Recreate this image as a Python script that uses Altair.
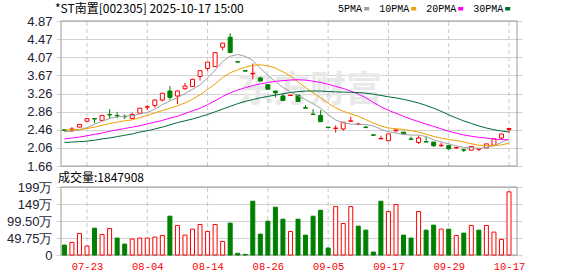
import altair as alt
import pandas as pd

title_text = "*ST南置[002305] 2025-10-17 15:00"
volume_title = "成交量:1847908"
watermark = "东方财富"

dates = ["07-18","07-21","07-22","07-23","07-24","07-25","07-28","07-29","07-30","07-31",
         "08-01","08-04","08-05","08-06","08-07","08-08","08-11","08-12","08-13","08-14",
         "08-15","08-18","08-19","08-20","08-21","08-22","08-25","08-26","08-27","08-28",
         "08-29","09-01","09-02","09-03","09-04","09-05","09-08","09-09","09-10","09-11",
         "09-12","09-15","09-16","09-17","09-18","09-19","09-22","09-23","09-24","09-25",
         "09-26","09-29","09-30","10-09","10-10","10-13","10-14","10-15","10-16","10-17"]

opens = [2.46,2.46,2.52,2.65,2.71,2.67,2.80,2.78,2.76,2.71,
         2.83,2.96,3.00,3.12,3.32,3.21,3.37,3.42,3.64,3.82,
         3.86,4.29,4.51,3.97,3.77,3.70,3.61,3.46,3.32,3.21,
         3.22,3.23,2.95,2.81,2.78,2.52,2.49,2.48,2.65,2.58,
         2.52,2.35,2.26,2.22,2.44,2.41,2.26,2.18,2.20,2.19,
         2.11,2.11,2.06,2.02,2.01,2.03,2.06,2.12,2.28,2.47]
closes = [2.45,2.48,2.58,2.71,2.70,2.78,2.79,2.77,2.75,2.80,
          2.94,2.97,3.12,3.27,3.18,3.32,3.43,3.58,3.77,3.96,
          4.17,4.38,4.17,3.96,3.76,3.71,3.54,3.36,3.28,3.11,
          3.23,3.09,2.94,2.80,2.64,2.51,2.50,2.63,2.66,2.59,
          2.51,2.34,2.27,2.37,2.46,2.37,2.25,2.28,2.19,2.11,
          2.12,2.04,2.07,2.01,2.09,2.04,2.15,2.26,2.37,2.49]
highs = [2.48,2.52,2.59,2.72,2.72,2.79,2.92,2.86,2.80,2.84,
         2.94,3.01,3.13,3.28,3.43,3.33,3.50,3.59,3.77,3.96,
         4.17,4.38,4.60,3.97,3.77,3.93,3.63,3.46,3.32,3.26,
         3.23,3.23,3.01,2.92,2.90,2.52,2.56,2.63,2.75,2.62,
         2.55,2.35,2.33,2.37,2.46,2.41,2.31,2.33,2.30,2.19,
         2.18,2.11,2.09,2.04,2.09,2.05,2.15,2.26,2.37,2.49]
lows = [2.43,2.41,2.52,2.64,2.61,2.67,2.70,2.72,2.70,2.70,
        2.83,2.90,2.95,3.09,3.12,3.03,3.35,3.42,3.55,3.77,
        3.86,4.22,4.17,3.96,3.76,3.58,3.54,3.36,3.18,3.11,
        3.22,3.09,2.94,2.80,2.64,2.51,2.40,2.44,2.65,2.56,
        2.51,2.34,2.26,2.22,2.41,2.37,2.25,2.15,2.19,2.08,
        2.08,2.02,2.04,1.97,2.01,1.99,2.06,2.12,2.24,2.39]

# volume in 万 (10k shares)
vol_wan = [29.1,36.9,63.1,26.2,78.6,60.2,77.7,49.5,32.0,46.6,
           49.5,49.5,52.4,57.3,113.6,86.4,58.2,75.7,89.3,69.0,
           89.3,39.8,93.2,4.9,1.9,157.3,61.2,99.0,139.8,104.8,
           68.9,104.8,58.2,113.6,131.0,20.4,141.7,92.2,141.7,84.5,
           72.8,8.7,157.3,127.2,147.6,58.2,49.5,127.2,72.8,87.4,
           75.7,75.7,57.3,64.1,86.4,72.8,86.4,67.0,45.6,184.79]
vol_up = [0,1,1,1,0,1,1,0,0,1,
          1,1,1,1,0,1,1,1,1,1,
          1,1,0,0,0,0,0,0,0,0,
          1,0,0,0,0,0,1,1,1,0,
          0,0,0,1,1,0,0,1,0,0,
          1,0,1,0,1,0,1,1,1,1]

ma5 = [2.42,2.43,2.46,2.51,2.584,2.65,2.712,2.75,2.758,2.778,
       2.81,2.846,2.916,3.02,3.096,3.172,3.264,3.356,3.456,3.612,
       3.782,3.972,4.09,4.128,4.088,3.996,3.828,3.666,3.53,3.40,
       3.304,3.214,3.13,3.034,2.94,2.796,2.678,2.616,2.588,2.578,
       2.578,2.546,2.474,2.416,2.39,2.362,2.344,2.346,2.31,2.24,
       2.19,2.148,2.106,2.07,2.066,2.05,2.072,2.11,2.182,2.262]
ma10 = [2.46,2.46,2.47,2.49,2.52,2.56,2.60,2.63,2.66,2.681,
        2.73,2.779,2.833,2.889,2.937,2.991,3.055,3.136,3.238,3.354,
        3.477,3.618,3.723,3.792,3.85,3.889,3.90,3.878,3.829,3.744,
        3.65,3.521,3.398,3.282,3.17,3.05,2.946,2.873,2.811,2.759,
        2.687,2.612,2.545,2.502,2.484,2.47,2.445,2.41,2.363,2.315,
        2.276,2.246,2.226,2.19,2.153,2.12,2.11,2.108,2.126,2.164]
ma20 = [2.26,2.28,2.30,2.33,2.36,2.39,2.43,2.46,2.49,2.52,
        2.55,2.59,2.63,2.67,2.72,2.76,2.82,2.88,2.94,3.018,
        3.104,3.199,3.278,3.341,3.394,3.44,3.478,3.507,3.534,3.549,
        3.564,3.57,3.561,3.537,3.51,3.47,3.423,3.376,3.32,3.252,
        3.169,3.067,2.972,2.892,2.827,2.76,2.696,2.642,2.587,2.537,
        2.482,2.429,2.386,2.346,2.319,2.295,2.278,2.259,2.245,2.24]
ma30 = [2.18,2.19,2.20,2.21,2.23,2.26,2.28,2.31,2.34,2.37,
        2.41,2.44,2.48,2.52,2.57,2.62,2.66,2.70,2.75,2.80,
        2.86,2.92,2.98,3.04,3.09,3.13,3.17,3.20,3.23,3.26,
        3.286,3.306,3.318,3.321,3.319,3.31,3.30,3.296,3.293,3.286,
        3.271,3.25,3.222,3.192,3.168,3.136,3.097,3.054,3.001,2.939,
        2.871,2.793,2.723,2.658,2.602,2.547,2.50,2.464,2.433,2.413]

price_ticks = [1.66, 2.06, 2.46, 2.86, 3.26, 3.67, 4.07, 4.47, 4.87]
vol_ticks = [0, 497500, 995000, 1492500, 1990000]
vol_tick_labels = ["0", "49.75万", "99.50万", "149万", "199万"]
label_idx = [3, 11, 19, 27, 35, 43, 51, 59]
ma_names = ["5PMA", "10PMA", "20PMA", "30PMA"]
ma_colors = ["#a0a0a0", "#f0a000", "#ff00ff", "#006b36"]

RED = "#ff0000"
GREEN = "#008000"
X_DOMAIN = [-0.45, 60.06]
P_DOMAIN = [price_ticks[0], price_ticks[-1]]
V_DOMAIN = [vol_ticks[0], vol_ticks[-1]]

df = pd.DataFrame({
    "i": list(range(len(dates))), "date": dates,
    "open": opens, "high": highs, "low": lows, "close": closes,
    "vol": [v * 10000 for v in vol_wan], "vup": [bool(u) for u in vol_up],
    "5PMA": ma5, "10PMA": ma10, "20PMA": ma20, "30PMA": ma30,
})
df["up"] = df["close"] >= df["open"]
df["v0"] = 0

grid_df = pd.DataFrame({"i": label_idx})
grid_df["p0"] = P_DOMAIN[0]; grid_df["p1"] = P_DOMAIN[1]
grid_df["v0"] = V_DOMAIN[0]; grid_df["v1"] = V_DOMAIN[1]
frame_df = pd.DataFrame({"x0": [X_DOMAIN[0]], "x1": [X_DOMAIN[1]],
                         "p0": [P_DOMAIN[0]], "p1": [P_DOMAIN[1]],
                         "v0": [V_DOMAIN[0]], "v1": [V_DOMAIN[1]]})

x_scale = alt.Scale(domain=X_DOMAIN, nice=False, zero=False)
x_label_expr = " : ".join(f"datum.value == {k} ? '{dates[k]}'" for k in label_idx) + " : ''"
x_axis = alt.Axis(values=label_idx, labelExpr=x_label_expr, title=None, grid=False,
                  domain=False, ticks=False, labelColor=RED, labelFont="Liberation Mono",
                  labelFontSize=10.5, labelPadding=6, labelAngle=0, labelOverlap=False)

def X(field="i:Q"):
    return alt.X(field, scale=x_scale, axis=x_axis)

p_scale = alt.Scale(domain=P_DOMAIN, range=[145, 0], nice=False, zero=False)
p_axis = alt.Axis(values=price_ticks, format=".2f", title=None, orient="left", grid=True,
                  gridColor="#d2d2d2", gridWidth=1, domain=False, ticks=False, labelPadding=4,
                  labelFont="Liberation Sans", labelFontSize=13, labelColor="#222233",
                  labelOverlap=False)

def PY(field):
    return alt.Y(field, scale=p_scale, axis=p_axis)

v_scale = alt.Scale(domain=V_DOMAIN, range=[234, 166], nice=False, zero=False)
v_label_expr = " : ".join(f"datum.value == {v} ? '{t}'" for v, t in zip(vol_ticks, vol_tick_labels)) + " : ''"
v_axis = alt.Axis(values=vol_ticks, labelExpr=v_label_expr, title=None, orient="left", grid=True,
                  gridColor="#d2d2d2", gridWidth=1, domain=False, ticks=False, labelPadding=4,
                  labelFont="Liberation Sans", labelFontSize=13, labelColor="#222233",
                  labelOverlap=False)

def VY(field):
    return alt.Y(field, scale=v_scale, axis=v_axis)

up_stroke = alt.condition("datum.up", alt.value(RED), alt.value(GREEN))
up_fill = alt.condition("datum.up", alt.value("white"), alt.value(GREEN))

wm = alt.Chart(pd.DataFrame({"t": [watermark]})).mark_text(
    font="Noto Sans CJK SC", fontSize=36, fontWeight="bold", color="#e8e8e8",
    align="center", baseline="middle").encode(text="t:N", x=alt.value(254), y=alt.value(70))

vgrid_p = alt.Chart(grid_df).mark_rule(strokeDash=[4, 3], color="#c8c8c8", strokeWidth=1).encode(
    x=X(), y=PY("p0:Q"), y2="p1:Q")
frame_p = alt.Chart(frame_df).mark_rect(fillOpacity=0, stroke="#9a9a9a", strokeWidth=1).encode(
    x=X("x0:Q"), x2="x1:Q", y=PY("p0:Q"), y2="p1:Q")
wicks = alt.Chart(df).mark_rule(strokeWidth=1).encode(
    x=X(), y=PY("low:Q"), y2="high:Q", color=up_stroke)
bodies = alt.Chart(df).mark_bar(size=4, strokeWidth=1).encode(
    x=X(), y=PY("open:Q"), y2="close:Q", fill=up_fill, stroke=up_stroke)
ma_lines = alt.Chart(df).transform_fold(ma_names, as_=["ma", "val"]).mark_line(strokeWidth=1).encode(
    x=X(), y=PY("val:Q"),
    color=alt.Color("ma:N", scale=alt.Scale(domain=ma_names, range=ma_colors), legend=None))

price = alt.layer(wm, vgrid_p, frame_p, wicks, bodies, ma_lines)

vgrid_v = alt.Chart(grid_df).mark_rule(strokeDash=[4, 3], color="#c8c8c8", strokeWidth=1).encode(
    x=X(), y=VY("v0:Q"), y2="v1:Q")
frame_v = alt.Chart(frame_df).mark_rect(fillOpacity=0, stroke="#9a9a9a", strokeWidth=1).encode(
    x=X("x0:Q"), x2="x1:Q", y=VY("v0:Q"), y2="v1:Q")
vol_bars = alt.Chart(df).mark_bar(size=4, strokeWidth=1).encode(
    x=X(), y=VY("vol:Q"), y2="v0:Q",
    fill=alt.condition("datum.vup", alt.value("white"), alt.value(GREEN)),
    stroke=alt.condition("datum.vup", alt.value(RED), alt.value(GREEN)))

volume = alt.layer(vgrid_v, frame_v, vol_bars)

texts = []
texts.append(alt.Chart(pd.DataFrame({"t": [title_text]})).mark_text(
    font="Noto Sans CJK SC", fontSize=12, color="#000000", align="left", baseline="middle"
).encode(text="t:N", x=alt.value(-1), y=alt.value(-12)))
texts.append(alt.Chart(pd.DataFrame({"t": [volume_title]})).mark_text(
    font="Noto Sans CJK SC", fontSize=12, color="#000000", align="left", baseline="middle"
).encode(text="t:N", x=alt.value(2), y=alt.value(157)))

lx = 282.0
for name, col in zip(ma_names, ma_colors):
    texts.append(alt.Chart(pd.DataFrame({"t": [name]})).mark_text(
        font="Liberation Mono", fontSize=10, color="#000000", align="left", baseline="middle"
    ).encode(text="t:N", x=alt.value(lx), y=alt.value(-12.5)))
    sx = lx + 5.8 * len(name) + 3
    texts.append(alt.Chart(pd.DataFrame({"t": [name]})).mark_rect(color=col).encode(
        x=alt.value(sx), x2=alt.value(sx + 5), y=alt.value(-14), y2=alt.value(-10.5)))
    lx = sx + 15

chart = alt.layer(price, volume, *texts).resolve_scale(y="independent").properties(
    width=466, height=234,
    autosize=alt.AutoSizeParams(type="none"),
    padding={"left": 56, "top": 21, "right": 56, "bottom": 21},
    background="white",
).configure_view(stroke=None)

chart.save("out.html", embed_options={"renderer": "svg", "actions": False})
